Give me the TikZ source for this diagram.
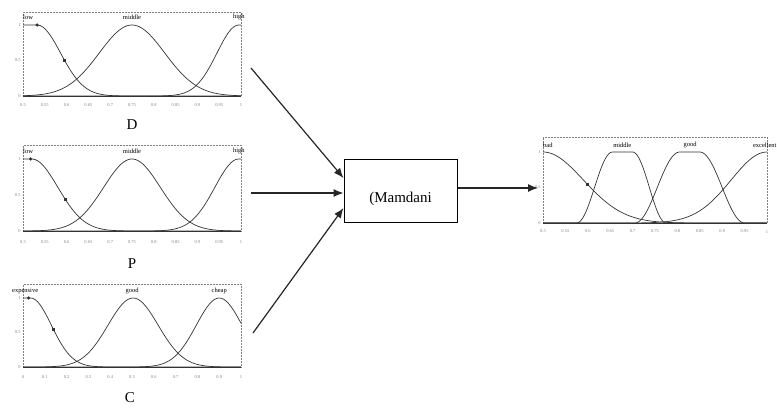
\documentclass[tikz,border=0pt]{standalone}
\usepackage{fontspec}
\setmainfont{Liberation Serif}
\usetikzlibrary{arrows.meta}

\pgfmathdeclarefunction{gauss}{3}{\pgfmathparse{exp(-((#1-#2)*(#1-#2))/(2*#3*#3))}}
\pgfmathdeclarefunction{rise}{3}{\pgfmathparse{0.5-0.5*cos(180*min(max((#1-#2)/(#3-#2),0),1))}}

\tikzset{
  frame/.style={densely dotted, gray, line width=0.5pt},
  curve/.style={line width=0.7pt, black!80},
  base/.style={line width=1pt, black!80},
  mflab/.style={font=\fontsize{6.5}{7}\selectfont, inner sep=0pt},
  ticklab/.style={font=\fontsize{4.5}{5}\selectfont, gray, inner sep=0pt},
  ylab/.style={font=\fontsize{4.5}{5}\selectfont, gray, inner sep=0pt, anchor=east},
  marker/.style={fill=black!80},
  varlab/.style={font=\fontsize{15}{16}\selectfont, inner sep=0pt},
  arr/.style={-{Latex[length=10pt,width=8pt]}, line width=1.2pt, black!85}
}

\begin{document}
\begin{tikzpicture} [x=1pt,y=-1pt]

\useasboundingbox (0,0) rectangle (777,408);
%\draw [step=10, dotted] (0,0) grid (777,408);

% D
\begin{scope} [shift={(23,96)}, x=218pt, y=71pt]
\draw [frame] (0,-0.01) rectangle (1,1.18);
\draw [base] (0,0) -- (1,0);
\draw [curve] plot [domain=0:1, samples=90] (\x, {gauss(max(\x,0.065),0.065,0.107)});
\draw [curve] plot [domain=0:1, samples=90] (\x, {gauss(\x,0.5,0.15)});
\draw [curve] plot [domain=0:1, samples=90] (\x, {gauss(min(\x,0.99),0.99,0.1)});
\fill [marker] (0.065,1) circle (1.8pt);
\fill [marker] ({0.19-0.006},{gauss(0.19,0.065,0.107)-0.02}) rectangle ++(0.012,0.04);
\node (d-low) [mflab, anchor=west] at (0,1.11) {low};
\node (d-middle) [mflab] at (0.5,1.11) {middle};
\node (d-high) [mflab] at (0.99,1.11) {high};
\node (d-y1) [ylab] at (-0.01,1) {1};
\node (d-y05) [ylab] at (-0.01,0.5) {0.5};
\node (d-y0) [ylab] at (-0.01,0) {0};
\foreach \lab [count=\i from 0] in {0.5,0.55,0.6,0.65,0.7,0.75,0.8,0.85,0.9,0.95,1}
  \node (d-tick-\i) [ticklab] at (\i/10,-0.13) {\lab};
\node (d-name) [varlab] at (0.5,-0.4) {D};
\end{scope}

% P
\begin{scope} [shift={(23,231)}, x=218pt, y=72pt]
\draw [frame] (0,-0.01) rectangle (1,1.19);
\draw [base] (0,0) -- (1,0);
\draw [curve] plot [domain=0:1, samples=90] (\x, {gauss(max(\x,0.04),0.04,0.12)});
\draw [curve] plot [domain=0:1, samples=90] (\x, {gauss(\x,0.5,0.13)});
\draw [curve] plot [domain=0:1, samples=90] (\x, {gauss(min(\x,0.99),0.99,0.11)});
\fill [marker] (0.035,1) circle (1.8pt);
\fill [marker] ({0.195-0.006},{gauss(0.195,0.04,0.12)-0.02}) rectangle ++(0.012,0.04);
\node (p-low) [mflab, anchor=west] at (0,1.11) {low};
\node (p-middle) [mflab] at (0.5,1.11) {middle};
\node (p-high) [mflab] at (0.99,1.11) {high};
\node (p-y1) [ylab] at (-0.01,1) {1};
\node (p-y05) [ylab] at (-0.01,0.5) {0.5};
\node (p-y0) [ylab] at (-0.01,0) {0};
\foreach \lab [count=\i from 0] in {0.5,0.55,0.6,0.65,0.7,0.75,0.8,0.85,0.9,0.95,1}
  \node (p-tick-\i) [ticklab] at (\i/10,-0.15) {\lab};
\node (p-name) [varlab] at (0.5,-0.45) {P};
\end{scope}

% C
\begin{scope} [shift={(23,367)}, x=218pt, y=69pt]
\draw [frame] (0,-0.01) rectangle (1,1.2);
\draw [base] (0,0) -- (1,0);
\draw [curve] plot [domain=0:1, samples=90] (\x, {gauss(max(\x,0.035),0.035,0.095)});
\draw [curve] plot [domain=0:1, samples=90] (\x, {gauss(\x,0.505,0.115)});
\draw [curve] plot [domain=0:1, samples=90] (\x, {gauss(\x,0.9,0.105)});
\fill [marker] (0.026,1) circle (1.8pt);
\fill [marker] ({0.14-0.006},{gauss(0.14,0.035,0.095)-0.02}) rectangle ++(0.012,0.04);
\node (c-expensive) [mflab] at (0.01,1.1) {expensive};
\node (c-good) [mflab] at (0.5,1.1) {good};
\node (c-cheap) [mflab] at (0.9,1.1) {cheap};
\node (c-y1) [ylab] at (-0.01,1) {1};
\node (c-y05) [ylab] at (-0.01,0.5) {0.5};
\node (c-y0) [ylab] at (-0.01,0) {0};
\foreach \lab [count=\i from 0] in {0,0.1,0.2,0.3,0.4,0.5,0.6,0.7,0.8,0.9,1}
  \node (c-tick-\i) [ticklab] at (\i/10,-0.15) {\lab};
\node (c-name) [varlab] at (0.49,-0.44) {C};
\end{scope}

% output
\begin{scope} [shift={(543,223)}, x=224pt, y=71pt]
\draw [frame] (0,-0.01) rectangle (1,1.21);
\draw [base] (0,0) -- (1,0);
\draw [curve] plot [domain=0:1, samples=90] (\x, {gauss(\x,0,0.18)});
\draw [curve] plot [domain=0:1, samples=120] (\x, {min(rise(\x,0.15,0.31),1-rise(\x,0.40,0.55))});
\draw [curve] plot [domain=0:1, samples=120] (\x, {min(rise(\x,0.41,0.61),1-rise(\x,0.70,0.90))});
\draw [curve] plot [domain=0:1, samples=90] (\x, {gauss(\x,1,0.16)});
\fill [marker] ({0.2-0.006},{gauss(0.2,0,0.18)-0.02}) rectangle ++(0.012,0.04);
\node (o-bad) [mflab, anchor=west] at (0,1.1) {bad};
\node (o-middle) [mflab] at (0.354,1.1) {middle};
\node (o-good) [mflab] at (0.657,1.1) {good};
\node (o-excellent) [mflab] at (0.99,1.1) {excellent};
\node (o-y1) [ylab] at (-0.01,1) {1};
\node (o-y05) [ylab] at (-0.01,0.5) {0.5};
\node (o-y0) [ylab] at (-0.01,0) {0};
\foreach \lab [count=\i from 0] in {0.5,0.55,0.6,0.65,0.7,0.75,0.8,0.85,0.9,0.95,1}
  \node (o-tick-\i) [ticklab] at (\i/10,-0.12) {\lab};
\end{scope}

\node (mamdani) [draw, line width=1pt, minimum width=113pt, minimum height=63pt] at (400.5,190.5) {};
\node (mamdani-text) [font=\fontsize{15}{16}\selectfont] at ([yshift=-8pt]mamdani.center) {(Mamdani};

\coordinate (d-out) at (251,68);
\coordinate (p-out) at (251,193);
\coordinate (c-out) at (253,333);
\coordinate (o-in) at (538,188);

\draw [arr] (d-out) -- ([yshift=12.5pt]mamdani.west);
\draw [arr] (p-out) -- (p-out -| mamdani.west);
\draw [arr] (c-out) -- ([yshift=-17.5pt]mamdani.west);
\draw [arr] ([yshift=2.5pt]mamdani.east) -- (o-in);

\end{tikzpicture}
\end{document}
